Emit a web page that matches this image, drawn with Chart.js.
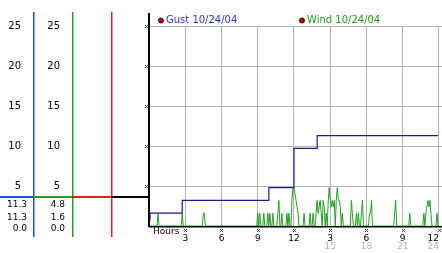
<!DOCTYPE html>
<html>
<head>
<meta charset="utf-8">
<script src="https://cdn.jsdelivr.net/npm/chart.js@4.4.1/dist/chart.umd.min.js"></script>
<style>
  html, body { margin: 0; padding: 0; background: #fff; }
  #c { display: block; }
</style>
</head>
<body>
<canvas id="c" width="442" height="253"></canvas>
<script>
// tick labels
const yTicks = [5, 10, 15, 20, 25];
const hourTicks = [0, 3, 6, 9, 12, 15, 18, 21, 24];
const hourLabels = ['', '3', '6', '9', '12', '3', '6', '9', '12'];
const pmTicks = [0, 15, 18, 21, 24];
const pmLabels = ['', '15', '18', '21', '24'];

const seriesNames = ['Gust 10/24/04', 'Wind 10/24/04'];

// gust: hour where the value changes, and the new value (mph)
const gustHours = [0, 0.08, 2.75, 9.92, 12.0, 13.92, 23.92];
const gustValues = [0.8, 1.6, 3.2, 4.8, 9.7, 11.3, 11.3];

// wind: 5 minute readings, one row per hour
const windRows = [
  [0, 0, 0, 0, 0, 0, 0, 0, 0, 1.6, 0, 0],
  [0, 0, 0, 0, 0, 0, 0, 0, 0, 0, 0, 0],
  [0, 0, 0, 0, 0, 0, 0, 0, 0, 1.6, 0, 0],
  [0, 0, 0, 0, 0, 0, 0, 0, 0, 0, 0, 0],
  [0, 0, 0, 0, 0, 0, 1.6, 1.6, 0, 0, 0, 0],
  [0, 0, 0, 0, 0, 0, 0, 0, 0, 0, 0, 0],
  [0, 0, 0, 0, 0, 0, 0, 0, 0, 0, 0, 0],
  [0, 0, 0, 0, 0, 0, 0, 0, 0, 0, 0, 0],
  [0, 0, 0, 0, 0, 0, 0, 0, 0, 0, 0, 0],
  [1.6, 0, 1.6, 0, 0, 0, 1.6, 0, 0, 0, 1.6, 0],
  [1.6, 0, 0, 1.6, 0, 0, 0, 0, 1.6, 3.2, 0, 0],
  [1.6, 0, 0, 0, 0, 1.6, 0, 1.6, 0, 0, 3.2, 4.8],
  [4.8, 4.0, 3.2, 2.4, 1.6, 0, 0, 0, 0, 0, 1.6, 0],
  [0, 0, 0, 0, 1.6, 0, 0, 1.6, 0, 0, 1.6, 3.2],
  [1.6, 2.4, 3.2, 1.6, 0, 3.2, 2.4, 0, 1.6, 0, 3.2, 4.8],
  [3.2, 2.4, 3.2, 2.4, 3.2, 0, 3.2, 4.8, 3.2, 3.2, 2.4, 0],
  [1.6, 0, 0, 0, 0, 0, 0, 0, 0, 3.2, 1.6, 0],
  [0, 0, 1.6, 0, 1.6, 0, 0, 1.6, 3.2, 0, 0, 0],
  [0, 0, 0, 1.6, 1.6, 3.2, 0, 0, 0, 0, 0, 0],
  [0, 0, 0, 0, 0, 0, 0, 0, 0, 0, 0, 0],
  [0, 0, 0, 0, 1.6, 3.2, 0, 0, 0, 0, 0, 0],
  [0, 0, 0, 0, 0, 0, 0, 1.6, 0, 0, 0, 0],
  [0, 0, 0, 0, 0, 0, 0, 0, 0, 1.6, 0, 1.6],
  [2.4, 3.2, 2.4, 3.2, 1.6, 0, 0, 0, 0, 0, 1.6, 0]
];

// summary under the left columns
const gustStats = ['11.3', '11.3', '0.0'];
const windStats = ['4.8', '1.6', '0.0'];

const gustPoints = gustHours.map((h, i) => ({ x: h, y: gustValues[i] }));
const windPoints = [];
windRows.forEach((row, h) => {
  row.forEach((v, k) => windPoints.push({ x: h + k / 12, y: v }));
});

Chart.defaults.font.family = 'DejaVu Sans';

const gridGray = '#b4b4b4';

function fixTicks(list) {
  return function(scale) {
    scale.ticks = list.map(v => ({ value: v }));
  };
}

function fixHeight(h) {
  return function(scale) {
    scale.height = h;
    scale.paddingLeft = 0;
    scale.paddingRight = 0;
  };
}

function sideAxis(weight, width, showLabels) {
  return {
    type: 'linear',
    position: 'left',
    min: 0,
    max: 25,
    weight: weight,
    afterBuildTicks: fixTicks(yTicks),
    afterFit: function(scale) { scale.width = width; },
    grid: { display: false, drawTicks: false },
    border: { display: false },
    ticks: {
      display: showLabels,
      padding: 12,
      color: '#000',
      font: { size: 10 }
    }
  };
}

// small dotted marks at the ticks
function mark(ctx, x, y) {
  ctx.fillRect(x - 1, y - 1, 1, 1);
  ctx.fillRect(x + 1, y - 1, 1, 1);
  ctx.fillRect(x, y, 1, 1);
  ctx.fillRect(x - 1, y + 1, 1, 1);
  ctx.fillRect(x + 1, y + 1, 1, 1);
}

const panelPlugin = {
  id: 'panel',
  beforeDatasetsDraw(chart) {
    const ctx = chart.ctx;
    const a = chart.chartArea;
    ctx.save();
    ctx.fillStyle = '#000';
    ctx.fillRect(a.left, a.bottom, a.right - a.left, 1.5);
    ctx.restore();
  },
  afterDraw(chart) {
    const ctx = chart.ctx;
    const a = chart.chartArea;
    const s = chart.scales;
    const sepY = 196;
    const cols = [
      { from: 0, x: s.yGust.right, color: '#1f50e0' },
      { from: s.yGust.right, x: s.yWind.right, color: '#22a022' },
      { from: s.yWind.right, x: s.yRed.right, color: '#e02020' }
    ];
    ctx.save();
    cols.forEach(c => {
      ctx.fillStyle = c.color;
      ctx.fillRect(Math.round(c.x), 12, 1.5, 225);
      ctx.fillRect(c.from, sepY, c.x - c.from, 2);
    });
    ctx.fillStyle = '#000';
    ctx.fillRect(s.yRed.right, sepY, a.left - s.yRed.right, 2);
    ctx.fillRect(a.left - 1, 13, 2, a.bottom - 12);

    // y tick marks
    ctx.fillStyle = '#444';
    yTicks.forEach(v => mark(ctx, a.left - 3, Math.round(s.y.getPixelForValue(v))));
    // x tick marks
    hourTicks.slice(1).forEach(v => mark(ctx, Math.round(s.x.getPixelForValue(v)), a.bottom + 4));

    // summary values
    ctx.font = '9px "DejaVu Sans"';
    ctx.fillStyle = '#000';
    ctx.textAlign = 'right';
    ctx.textBaseline = 'middle';
    const rowsY = [205, 217.5, 229];
    gustStats.forEach((t, i) => ctx.fillText(t, 27, rowsY[i]));
    windStats.forEach((t, i) => ctx.fillText(t, 65, rowsY[i]));

    // hours caption
    ctx.textAlign = 'left';
    ctx.fillText('Hours', a.left + 4, a.bottom + 5.5);

    // legend
    const legendX = [161, 302];
    const legendColors = ['#2a36b4', '#1f9a1f'];
    ctx.font = '10px "DejaVu Sans"';
    chart.data.datasets.forEach((ds, i) => {
      ctx.beginPath();
      ctx.arc(legendX[i], 20.5, 2.6, 0, Math.PI * 2);
      ctx.fillStyle = '#a01010';
      ctx.fill();
      ctx.lineWidth = 0.8;
      ctx.strokeStyle = '#300';
      ctx.stroke();
      ctx.fillStyle = legendColors[i];
      ctx.fillText(ds.label, legendX[i] + 5, 20.5);
    });
    ctx.restore();
  }
};

new Chart(document.getElementById('c'), {
  type: 'line',
  data: {
    datasets: [
      {
        label: seriesNames[0],
        data: gustPoints,
        borderColor: '#1a1a92',
        borderWidth: 1.2,
        stepped: true,
        pointRadius: 0
      },
      {
        label: seriesNames[1],
        data: windPoints,
        borderColor: '#24a024',
        borderWidth: 1,
        tension: 0,
        pointRadius: 0
      }
    ]
  },
  options: {
    responsive: false,
    animation: false,
    devicePixelRatio: 1,
    layout: { padding: { top: 26, left: 0, right: 0, bottom: 0 } },
    plugins: {
      legend: { display: false },
      tooltip: { enabled: false }
    },
    scales: {
      x: {
        type: 'linear',
        position: 'bottom',
        min: 0,
        max: 24.25,
        afterBuildTicks: fixTicks(hourTicks),
        afterFit: fixHeight(16),
        grid: { color: gridGray, drawTicks: false },
        border: { display: false },
        ticks: {
          callback: (v, i) => hourLabels[i],
          color: '#000',
          font: { size: 9, lineHeight: 1 },
          padding: 8,
          align: 'inner',
          maxRotation: 0,
          autoSkip: false
        }
      },
      x2: {
        type: 'linear',
        position: 'bottom',
        min: 0,
        max: 24.25,
        afterBuildTicks: fixTicks(pmTicks),
        afterFit: fixHeight(11),
        grid: { display: false, drawTicks: false },
        border: { display: false },
        ticks: {
          callback: (v, i) => pmLabels[i],
          color: '#b4b4b4',
          font: { size: 9, lineHeight: 1 },
          padding: 0,
          align: 'inner',
          maxRotation: 0,
          autoSkip: false
        }
      },
      y: {
        type: 'linear',
        position: 'left',
        min: 0,
        max: 25,
        weight: 0,
        afterBuildTicks: fixTicks(yTicks),
        afterFit: function(scale) { scale.width = 38; },
        grid: { color: gridGray, drawTicks: false },
        border: { display: false },
        ticks: { display: false }
      },
      yRed: sideAxis(1, 39, false),
      yWind: sideAxis(2, 39, true),
      yGust: sideAxis(3, 33, true)
    }
  },
  plugins: [panelPlugin]
});
</script>
</body>
</html>
